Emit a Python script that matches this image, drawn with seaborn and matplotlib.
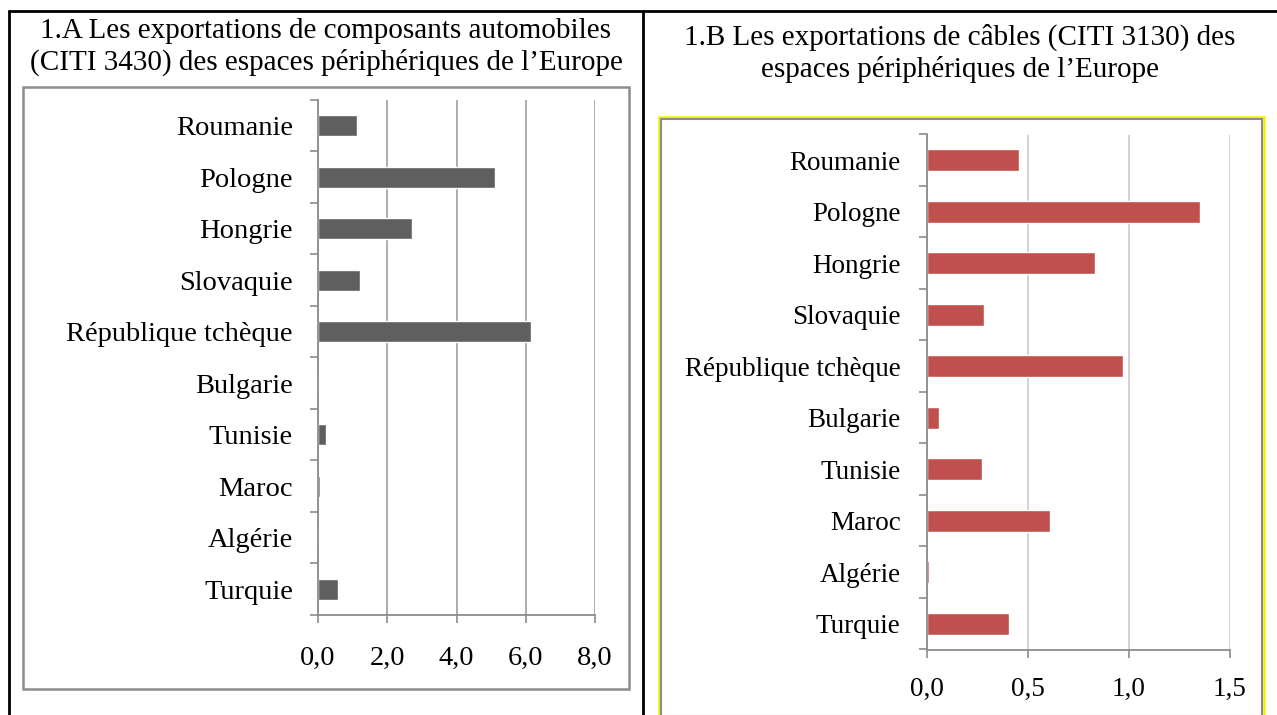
import matplotlib
matplotlib.use("Agg")
import matplotlib.pyplot as plt
import matplotlib.patches as mpatches
from matplotlib.ticker import FuncFormatter, FixedLocator
import seaborn as sns
import pandas as pd

sns.set_style("white")
plt.rcParams['font.family'] = ['Liberation Serif', 'DejaVu Serif']
plt.rcParams['text.color'] = 'black'
plt.rcParams['xtick.labelcolor'] = 'black'
plt.rcParams['ytick.labelcolor'] = 'black'

# données
pays = ['Roumanie', 'Pologne', 'Hongrie', 'Slovaquie', 'République tchèque',
        'Bulgarie', 'Tunisie', 'Maroc', 'Algérie', 'Turquie']
composants_auto = [1.13, 5.12, 2.72, 1.20, 6.15, 0.0, 0.22, 0.05, 0.0, 0.58]
cables = [0.455, 1.35, 0.83, 0.28, 0.97, 0.06, 0.27, 0.61, 0.01, 0.405]

titre_a = "1.A Les exportations de composants automobiles\n(CITI 3430) des espaces périphériques de l\u2019Europe"
titre_b = "1.B Les exportations de câbles (CITI 3130) des\nespaces périphériques de l\u2019Europe"

W, H = 1277, 715
fig = plt.figure(figsize=(W / 100, H / 100), dpi=100)


def px_axes(x0, y0, x1, y1):
    return fig.add_axes([x0 / W, 1 - y1 / H, (x1 - x0) / W, (y1 - y0) / H])


def px_rect(x0, y0, x1, y1, color, lw):
    fig.patches.append(mpatches.Rectangle((x0 / W, 1 - y1 / H), (x1 - x0) / W, (y1 - y0) / H,
                                          transform=fig.transFigure, fill=False,
                                          edgecolor=color, linewidth=lw))


def px_line(xs, ys, color='black', lw=2):
    fig.add_artist(plt.Line2D([x / W for x in xs], [1 - y / H for y in ys],
                              transform=fig.transFigure, color=color, linewidth=lw))


# cadre du tableau
px_line([9, 1277], [11, 11])
px_line([9, 9], [11, 715])
px_line([643, 643], [11, 715])

# cadres des graphiques
px_rect(23, 87, 629, 689, '#8c8c8c', 1.8)
px_rect(659, 117, 1264, 716, '#f2f200', 1.8)
px_rect(661, 119, 1262, 716, '#8c8c8c', 1.5)

fig.text(326 / W, 1 - 47 / H, titre_a, ha='center', va='center', fontsize=21, linespacing=1.25)
fig.text(960 / W, 1 - 53 / H, titre_b, ha='center', va='center', fontsize=21, linespacing=1.25)


def style_axes(ax, xmax, ticks, fmt, grid_color, label_size, pad_x, pad_y):
    ax.set_xlim(0, xmax)
    ax.set_ylim(len(pays) - 0.5, -0.5)
    ax.set_xlabel('')
    ax.set_ylabel('')
    ax.xaxis.set_major_locator(FixedLocator(ticks))
    ax.xaxis.set_major_formatter(FuncFormatter(lambda v, p: fmt.format(v).replace('.', ',')))
    ax.yaxis.set_minor_locator(FixedLocator([i - 0.5 for i in range(len(pays) + 1)]))
    ax.grid(axis='x', color=grid_color, linewidth=1.3)
    ax.set_axisbelow(True)
    for s in ['top', 'right']:
        ax.spines[s].set_visible(False)
    for s in ['left', 'bottom']:
        ax.spines[s].set_color('#8c8c8c')
        ax.spines[s].set_linewidth(1.3)
    ax.tick_params(axis='x', direction='out', length=6, width=1.2, color='#8c8c8c',
                   labelsize=label_size, labelcolor='black', pad=pad_x, bottom=True)
    ax.tick_params(axis='y', which='major', length=0, labelsize=label_size,
                   labelcolor='black', pad=pad_y)
    ax.tick_params(axis='y', which='minor', direction='out', length=6, width=1.2,
                   color='#8c8c8c', left=True)


df = pd.DataFrame({'pays': pays, 'composants': composants_auto, 'cables': cables})

ax_a = px_axes(318, 100, 595, 615)
sns.barplot(data=df, x='composants', y='pays', orient='h', color='#5f5f5f',
            saturation=1, width=0.4, ax=ax_a)
style_axes(ax_a, 8, [0, 2, 4, 6, 8], '{:.1f}', '#a6a6a6', 20.5, 16, 18)

ax_b = px_axes(927, 134.5, 1230, 649.5)
sns.barplot(data=df, x='cables', y='pays', orient='h', color='#c0504d',
            saturation=1, width=0.42, ax=ax_b)
style_axes(ax_b, 1.5, [0, 0.5, 1.0, 1.5], '{:.1f}', '#cfcfcf', 19.5, 14, 19)

fig.savefig('out.png', dpi=100)
